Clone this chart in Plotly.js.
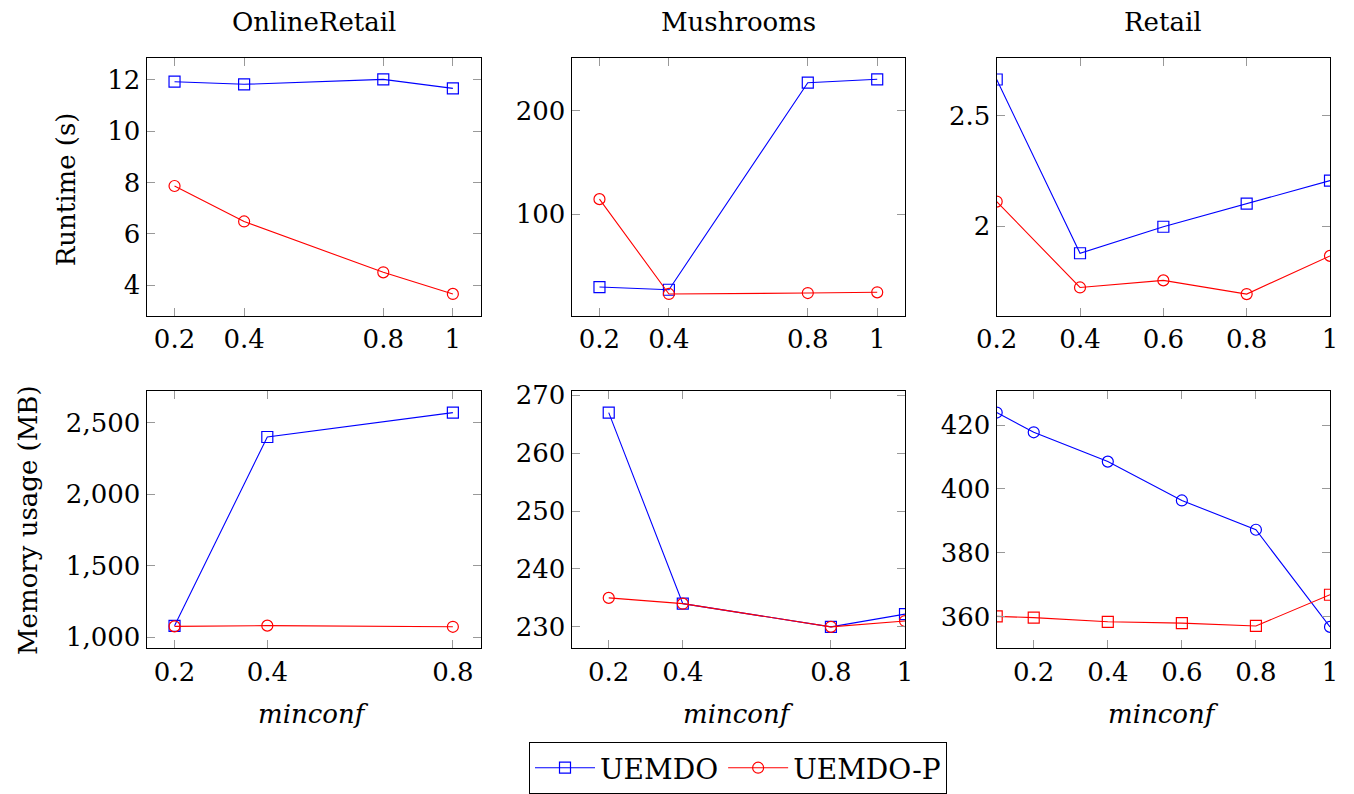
<!DOCTYPE html>
<html>
<head>
<meta charset="utf-8">
<script src="https://cdn.plot.ly/plotly-3.0.1.min.js"></script>
<style>
  html, body { margin: 0; padding: 0; background: #fff; }
  #chart { width: 1354px; height: 794px; }
</style>
</head>
<body>
<div id="chart"></div>
<script>
// Runtime and memory usage of UEMDO vs UEMDO-P for three datasets, by minconf.
const seriesNames = ['UEMDO', 'UEMDO-P'];
const datasetTitles = ['OnlineRetail', 'Mushrooms', 'Retail'];
const rowTitles = ['Runtime (s)', 'Memory usage (MB)'];
const xTitle = 'minconf';

// Runtime (s)
const onlineRetailRuntimeX = [0.2, 0.4, 0.8, 1];
const onlineRetailRuntimeUEMDO = [11.92, 11.82, 12.01, 11.66];
const onlineRetailRuntimeUEMDOP = [7.86, 6.48, 4.50, 3.66];

const mushroomsRuntimeX = [0.2, 0.4, 0.8, 1];
const mushroomsRuntimeUEMDO = [29.8, 27.2, 227.2, 230.5];
const mushroomsRuntimeUEMDOP = [114.7, 23.1, 24.0, 24.7];

const retailRuntimeX = [0.2, 0.4, 0.6, 0.8, 1];
const retailRuntimeUEMDO = [2.664, 1.877, 1.997, 2.102, 2.206];
const retailRuntimeUEMDOP = [2.111, 1.722, 1.754, 1.692, 1.865];

// Memory usage (MB)
const onlineRetailMemoryX = [0.2, 0.4, 0.8];
const onlineRetailMemoryUEMDO = [1079, 2399, 2569];
const onlineRetailMemoryUEMDOP = [1075, 1080, 1072];

const mushroomsMemoryX = [0.2, 0.4, 0.8, 1];
const mushroomsMemoryUEMDO = [267, 234, 230, 232.2];
const mushroomsMemoryUEMDOP = [235, 234, 230, 231];

const retailMemoryX = [0.1, 0.2, 0.4, 0.6, 0.8, 1];
const retailMemoryUEMDO = [424.0, 417.8, 408.6, 396.4, 387.2, 356.7];
const retailMemoryUEMDOP = [360.0, 359.6, 358.3, 357.9, 357.0, 366.8];

// Tick values per panel
const xTicksA = [0.2, 0.4, 0.8, 1];
const xTicksB = [0.2, 0.4, 0.6, 0.8, 1];
const xTicksC = [0.2, 0.4, 0.8];
const xTicksD = [0.2, 0.4, 0.6, 0.8, 1];
const yTicksOnlineRuntime = [4, 6, 8, 10, 12];
const yTicksMushRuntime = [100, 200];
const yTicksRetailRuntime = [2, 2.5];
const yTicksOnlineMemory = [1000, 1500, 2000, 2500];
const yTicksMushMemory = [230, 240, 250, 260, 270];
const yTicksRetailMemory = [360, 380, 400, 420];

const W = 1354, H = 794;
const FONT = 'DejaVu Serif';
const FS = 26;
const BLUE = 'rgb(0,0,255)';
const RED = 'rgb(255,0,0)';
const fx = p => p / W;
const fy = p => 1 - p / H;

// Panel boxes in pixels: [left, right], [top, bottom]
const cols = [[146.7, 480.7], [571.7, 905], [996.7, 1330]];
const rows = [[58.3, 316.7], [392.7, 650.7]];

function line(n, x, y, color, symbol, ax, showlegend) {
  return {
    type: 'scatter', mode: 'lines+markers', name: n, x: x, y: y,
    xaxis: 'x' + ax, yaxis: 'y' + ax, showlegend: showlegend,
    line: { color: color, width: 1.1 },
    marker: { symbol: symbol, size: 11, color: color, line: { color: color, width: 1.2 } }
  };
}

const traces = [
  line(seriesNames[0], onlineRetailRuntimeX, onlineRetailRuntimeUEMDO, BLUE, 'square-open', '', true),
  line(seriesNames[1], onlineRetailRuntimeX, onlineRetailRuntimeUEMDOP, RED, 'circle-open', '', true),
  line(seriesNames[0], mushroomsRuntimeX, mushroomsRuntimeUEMDO, BLUE, 'square-open', '2', false),
  line(seriesNames[1], mushroomsRuntimeX, mushroomsRuntimeUEMDOP, RED, 'circle-open', '2', false),
  line(seriesNames[0], retailRuntimeX, retailRuntimeUEMDO, BLUE, 'square-open', '3', false),
  line(seriesNames[1], retailRuntimeX, retailRuntimeUEMDOP, RED, 'circle-open', '3', false),
  line(seriesNames[0], onlineRetailMemoryX, onlineRetailMemoryUEMDO, BLUE, 'square-open', '4', false),
  line(seriesNames[1], onlineRetailMemoryX, onlineRetailMemoryUEMDOP, RED, 'circle-open', '4', false),
  line(seriesNames[0], mushroomsMemoryX, mushroomsMemoryUEMDO, BLUE, 'square-open', '5', false),
  line(seriesNames[1], mushroomsMemoryX, mushroomsMemoryUEMDOP, RED, 'circle-open', '5', false),
  line(seriesNames[0], retailMemoryX, retailMemoryUEMDO, BLUE, 'circle-open', '6', false),
  line(seriesNames[1], retailMemoryX, retailMemoryUEMDOP, RED, 'square-open', '6', false)
];

function axisStyle(extra) {
  return Object.assign({
    showline: true, linecolor: '#000', linewidth: 1.2, mirror: 'allticks',
    ticks: 'inside', ticklen: 8, tickwidth: 1, tickcolor: '#999',
    showgrid: false, zeroline: false, fixedrange: true,
    tickfont: { family: FONT, size: FS, color: '#000' }
  }, extra);
}

const layout = {
  width: W, height: H,
  margin: { l: 0, r: 0, t: 0, b: 0 },
  paper_bgcolor: '#fff', plot_bgcolor: '#fff',
  font: { family: FONT, size: FS, color: '#000' },
  showlegend: true,
  legend: {
    orientation: 'h', x: fx(738), xanchor: 'center', y: fy(745), yanchor: 'top',
    bordercolor: '#000', borderwidth: 1, bgcolor: '#fff',
    font: { family: FONT, size: 28, color: '#000' }, itemwidth: 60, tracegroupgap: 0
  },
  annotations: []
};

const panelAxes = [
  { x: [0.12, 1.08], xt: xTicksA, y: [2.82, 12.84], yt: yTicksOnlineRuntime },
  { x: [0.12, 1.08], xt: xTicksA, y: [2.3, 251.0], yt: yTicksMushRuntime },
  { x: [0.2, 1], xt: xTicksB, y: [1.595, 2.761], yt: yTicksRetailRuntime },
  { x: [0.14, 0.86], xt: xTicksC, y: [922, 2719], yt: yTicksOnlineMemory, fmt: ',' },
  { x: [0.1, 1], xt: xTicksA, y: [226.3, 270.7], yt: yTicksMushMemory },
  { x: [0.1, 1], xt: xTicksD, y: [350, 430.7], yt: yTicksRetailMemory }
];

panelAxes.forEach((p, i) => {
  const r = Math.floor(i / 3), c = i % 3;
  const suffix = i === 0 ? '' : String(i + 1);
  const xa = 'xaxis' + suffix, ya = 'yaxis' + suffix;
  layout[xa] = axisStyle({
    domain: [fx(cols[c][0]), fx(cols[c][1])], anchor: 'y' + suffix,
    range: p.x, tickvals: p.xt, ticktext: p.xt.map(String)
  });
  layout[ya] = axisStyle({
    domain: [fy(rows[r][1]), fy(rows[r][0])], anchor: 'x' + suffix,
    range: p.y, tickvals: p.yt, tickformat: p.fmt || ''
  });
});

// Column titles and x-axis titles
datasetTitles.forEach((t, c) => {
  layout.annotations.push({
    text: t, xref: 'paper', yref: 'paper',
    x: fx((cols[c][0] + cols[c][1]) / 2), y: fy(22), xanchor: 'center', yanchor: 'middle',
    showarrow: false, font: { family: FONT, size: FS, color: '#000' }
  });
  layout.annotations.push({
    text: '<i>' + xTitle + '</i>', xref: 'paper', yref: 'paper',
    x: fx((cols[c][0] + cols[c][1]) / 2), y: fy(717), xanchor: 'center', yanchor: 'middle',
    showarrow: false, font: { family: FONT, size: FS, color: '#000' }
  });
});

// Row titles
layout.annotations.push({
  text: rowTitles[0], xref: 'paper', yref: 'paper', textangle: -90,
  x: fx(66), y: fy(190), xanchor: 'center', yanchor: 'middle',
  showarrow: false, font: { family: FONT, size: FS, color: '#000' }
});
layout.annotations.push({
  text: rowTitles[1], xref: 'paper', yref: 'paper', textangle: -90,
  x: fx(28), y: fy(522), xanchor: 'center', yanchor: 'middle',
  showarrow: false, font: { family: FONT, size: FS, color: '#000' }
});

Plotly.newPlot('chart', traces, layout, { staticPlot: true, displayModeBar: false });
</script>
</body>
</html>
